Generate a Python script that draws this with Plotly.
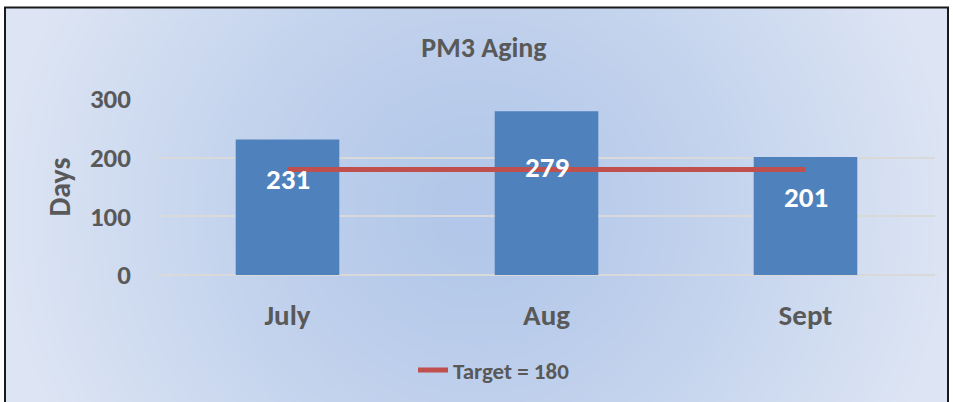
import base64
import struct
import zlib

import numpy as np
import plotly.graph_objects as go

# -------------------------------------------------
# DATA
# -------------------------------------------------
months = ["July", "Aug", "Sept"]
aging_days = [231, 279, 201]
target_days = [180, 180, 180]
target_name = "Target = 180"
y_ticks = [0, 100, 200, 300]
label_shift = [-40, -56, -40]

FONT = "Calibri, Carlito, Lato, sans-serif"
GREY = "#595959"
BAR_BLUE = "#4F81BD"
TARGET_RED = "#C0504D"

# canvas geometry (pixels) -> plot area
W, H = 953, 402
L, R, T, B = 158, 18, 99, 126
PW, PH = W - L - R, H - T - B


def px_to_paper_x(px):
    return (px - L) / PW


def px_to_paper_y(py):
    return (H - B - py) / PH


# -------------------------------------------------
# BACKGROUND GRADIENT (Excel-style path gradient)
# -------------------------------------------------
def gradient_png(w=240, h=100):
    xs = np.linspace(-1, 1, w)
    ys = np.linspace(-1, 1, h)
    xx, yy = np.meshgrid(xs, ys)
    t = np.clip(np.sqrt(xx ** 2 + (yy / 2.2) ** 2), 0, 1) ** 1.3
    center = np.array([178, 199, 233])
    edge = np.array([221, 229, 244])
    img = center + (edge - center) * t[..., None]
    img = img.astype(np.uint8)

    raw = b"".join(b"\x00" + row.tobytes() for row in img)

    def chunk(tag, data):
        c = struct.pack(">I", len(data)) + tag + data
        return c + struct.pack(">I", zlib.crc32(tag + data) & 0xFFFFFFFF)

    png = b"\x89PNG\r\n\x1a\n"
    png += chunk(b"IHDR", struct.pack(">IIBBBBB", w, h, 8, 2, 0, 0, 0))
    png += chunk(b"IDAT", zlib.compress(raw, 9))
    png += chunk(b"IEND", b"")
    return "data:image/png;base64," + base64.b64encode(png).decode()


fig = go.Figure()

fig.add_trace(
    go.Bar(
        x=months,
        y=aging_days,
        width=0.4,
        marker=dict(color=BAR_BLUE, line=dict(width=0)),
        showlegend=False,
        hoverinfo="x+y",
    )
)

fig.add_trace(
    go.Scatter(
        x=months,
        y=target_days,
        mode="lines",
        name=target_name,
        line=dict(color=TARGET_RED, width=5),
    )
)

# data labels inside bars
for m, v, s in zip(months, aging_days, label_shift):
    fig.add_annotation(
        x=m, y=v, yshift=s, text=str(v), showarrow=False,
        font=dict(family=FONT, size=29, color="white", weight="bold"),
    )

# chart area box
x0, x1 = px_to_paper_x(5), px_to_paper_x(948)
y0, y1 = px_to_paper_y(420), px_to_paper_y(7)

fig.add_layout_image(
    dict(
        source=gradient_png(),
        xref="paper", yref="paper",
        x=x0, y=y1, sizex=x1 - x0, sizey=y1 - y0,
        xanchor="left", yanchor="top",
        sizing="stretch", layer="below",
    )
)
fig.add_shape(
    type="rect", xref="paper", yref="paper",
    x0=x0, x1=x1, y0=y0, y1=y1,
    line=dict(color="#1a1a1a", width=2), layer="above",
)

fig.update_layout(
    width=W,
    height=H,
    margin=dict(l=L, r=R, t=T, b=B),
    paper_bgcolor="white",
    plot_bgcolor="rgba(0,0,0,0)",
    font=dict(family=FONT, color=GREY, weight="bold"),
    title=dict(
        text="PM3 Aging",
        x=px_to_paper_x(484), xref="paper", xanchor="center",
        y=1 - 47 / H, yanchor="middle",
        font=dict(family=FONT, size=28, color=GREY, weight="bold"),
    ),
    legend=dict(
        orientation="h",
        x=px_to_paper_x(494), xref="paper", xanchor="center",
        y=px_to_paper_y(370), yanchor="middle",
        bgcolor="rgba(0,0,0,0)",
        font=dict(family=FONT, size=23, color=GREY, weight="bold"),
    ),
    bargap=0.6,
)

fig.update_xaxes(
    showgrid=False,
    showline=False,
    ticks="",
    ticklabelstandoff=20,
    tickfont=dict(family=FONT, size=29, color=GREY, weight="bold"),
    fixedrange=True,
)

fig.update_yaxes(
    range=[0, 300],
    tickvals=y_ticks,
    showgrid=True,
    gridcolor="#D9D9D9",
    gridwidth=2,
    zeroline=True,
    zerolinecolor="#D9D9D9",
    zerolinewidth=2,
    showline=False,
    ticks="",
    ticklabelstandoff=26,
    tickfont=dict(family=FONT, size=27, color=GREY, weight="bold"),
    title=dict(
        text="Days", standoff=10,
        font=dict(family=FONT, size=30, color=GREY, weight="bold"),
    ),
    fixedrange=True,
)

# drop the browser's default page margin so the chart sits at (0, 0)
fig.write_html(
    "out.html",
    config={"displayModeBar": False},
    post_script="document.body.style.margin='0';",
)
